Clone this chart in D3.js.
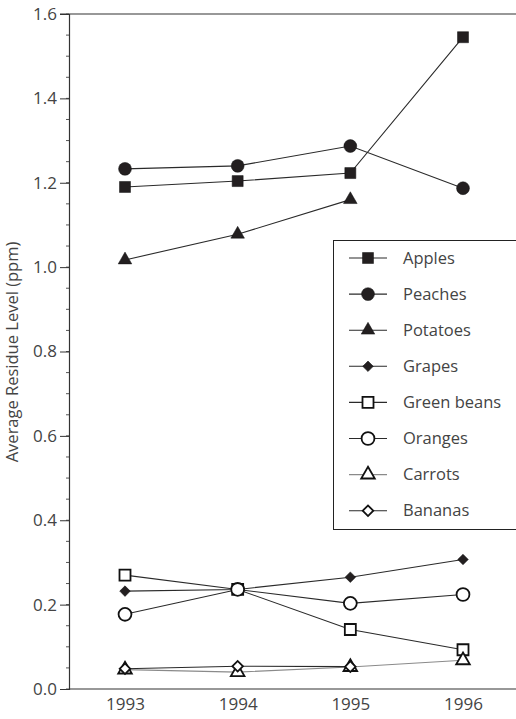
<!DOCTYPE html>
<html>
  <meta charset="utf-8">
  <head>
    <script src="https://d3js.org/d3.v7.min.js"></script>
    <style>
      body { margin: 0; background: #fff; }
      text { font-family: "Open Sans", "DejaVu Sans", sans-serif; font-weight: 400; fill: #444; }
    </style>
  </head>
  <body>
    <div id="viz"></div>

    <script type="text/javascript">
      // data
      var years = [1993, 1994, 1995, 1996];
      var names = ["Apples", "Peaches", "Potatoes", "Grapes", "Green beans", "Oranges", "Carrots", "Bananas"];
      var apples     = [1.190, 1.204, 1.223, 1.545];
      var peaches    = [1.233, 1.240, 1.287, 1.187];
      var potatoes   = [1.017, 1.078, 1.160, null];
      var grapes     = [0.232, 0.236, 0.265, 0.307];
      var greenBeans = [0.270, 0.236, 0.141, 0.093];
      var oranges    = [0.177, 0.236, 0.203, 0.224];
      var carrots    = [0.046, 0.040, 0.052, 0.068];
      var bananas    = [0.048, 0.054, 0.053, null];
      var yTicks = [0, 0.2, 0.4, 0.6, 0.8, 1.0, 1.2, 1.4, 1.6];

      var series = [
        {name: names[0], values: apples,     shape: "square",   filled: true},
        {name: names[1], values: peaches,    shape: "circle",   filled: true},
        {name: names[2], values: potatoes,   shape: "triangle", filled: true},
        {name: names[3], values: grapes,     shape: "diamond",  filled: true},
        {name: names[4], values: greenBeans, shape: "square",   filled: false},
        {name: names[5], values: oranges,    shape: "circle",   filled: false},
        {name: names[6], values: carrots,    shape: "triangle", filled: false, line: "#8a8a8a"},
        {name: names[7], values: bananas,    shape: "diamond",  filled: false}
      ];

      var W = 516, H = 719;
      var svg = d3.select("#viz").append("svg")
        .attr("width", W).attr("height", H);

      var x = d3.scalePoint().domain(years).range([125, 463]);
      var y = d3.scaleLinear().domain([0, 1.6]).range([689, 14]);

      // frame: top line and x baseline
      svg.append("line").attr("x1", 60).attr("x2", W).attr("y1", y(1.6)).attr("y2", y(1.6))
        .attr("stroke", "#333").attr("stroke-width", 1.2);
      svg.append("line").attr("x1", 69).attr("x2", W).attr("y1", y(0)).attr("y2", y(0))
        .attr("stroke", "#333").attr("stroke-width", 1.2);

      // minor ticks
      svg.selectAll(".minor")
        .data(d3.range(0, 1.6001, 0.05))
        .enter().append("line")
          .attr("x1", 66).attr("x2", 69)
          .attr("y1", d => y(d)).attr("y2", d => y(d))
          .attr("stroke", "#555").attr("stroke-width", 1);

      // Y axis
      var yAxis = svg.append("g")
        .attr("transform", "translate(69,0)")
        .call(d3.axisLeft(y).tickValues(yTicks).tickFormat(d3.format(".1f")).tickSize(9).tickPadding(3));
      yAxis.select(".domain").attr("stroke", "#333").attr("stroke-width", 1.2);
      yAxis.selectAll(".tick line").attr("stroke", "#333");
      yAxis.selectAll("text").attr("font-size", 17).attr("fill", "#444")
        .style("font-family", "'Open Sans', sans-serif");

      // X axis labels (no tick marks)
      var xAxis = svg.append("g")
        .attr("transform", "translate(0," + y(0) + ")")
        .call(d3.axisBottom(x).tickSize(0).tickPadding(9));
      xAxis.select(".domain").remove();
      xAxis.selectAll("text").attr("font-size", 17).attr("fill", "#444")
        .style("font-family", "'Open Sans', sans-serif");

      svg.append("text")
        .attr("transform", "translate(18,352) rotate(-90)")
        .attr("text-anchor", "middle")
        .attr("font-size", 16.5)
        .text("Average Residue Level (ppm)");

      function symbolFor(s) {
        if (s.shape === "square") return d3.symbol(d3.symbolSquare, 121)();
        if (s.shape === "circle") return d3.symbol(d3.symbolCircle, 130)();
        if (s.shape === "triangle") return d3.symbol(d3.symbolTriangle, 80)();
        return d3.symbol(d3.symbolSquare, 56)();
      }
      function markerTransform(s, px, py) {
        return "translate(" + px + "," + py + ")" + (s.shape === "diamond" ? " rotate(45)" : "");
      }

      var line = d3.line()
        .defined(d => d[1] != null)
        .x(d => x(d[0])).y(d => y(d[1]));

      // lines
      series.forEach(function(s) {
        svg.append("path")
          .datum(years.map((yr, i) => [yr, s.values[i]]))
          .attr("d", line)
          .attr("fill", "none")
          .attr("stroke", s.line || "#2a2a2a")
          .attr("stroke-width", 1.1);
      });

      // markers
      series.forEach(function(s) {
        svg.selectAll(null)
          .data(years.map((yr, i) => [yr, s.values[i]]).filter(d => d[1] != null))
          .enter().append("path")
            .attr("d", symbolFor(s))
            .attr("transform", d => markerTransform(s, x(d[0]), y(d[1])))
            .attr("fill", s.filled ? "#231f20" : "#fff")
            .attr("stroke", "#111")
            .attr("stroke-width", s.filled ? 0.5 : 1.8);
      });

      // legend
      var lg = svg.append("g");
      lg.append("rect")
        .attr("x", 333.5).attr("y", 240.5).attr("width", 200).attr("height", 289)
        .attr("fill", "#fff").attr("stroke", "#222").attr("stroke-width", 1);
      series.forEach(function(s, i) {
        var ly = 258 + i * 36.1;
        lg.append("line").attr("x1", 349).attr("x2", 387).attr("y1", ly).attr("y2", ly)
          .attr("stroke", s.line || "#2a2a2a").attr("stroke-width", 1.1);
        lg.append("path")
          .attr("d", symbolFor(s))
          .attr("transform", markerTransform(s, 368, ly))
          .attr("fill", s.filled ? "#231f20" : "#fff")
          .attr("stroke", "#111")
          .attr("stroke-width", s.filled ? 0.5 : 1.8);
        lg.append("text").attr("x", 403).attr("y", ly).attr("dy", "0.35em")
          .attr("font-size", 16.5).text(s.name);
      });
    </script>
  </body>
</html>
